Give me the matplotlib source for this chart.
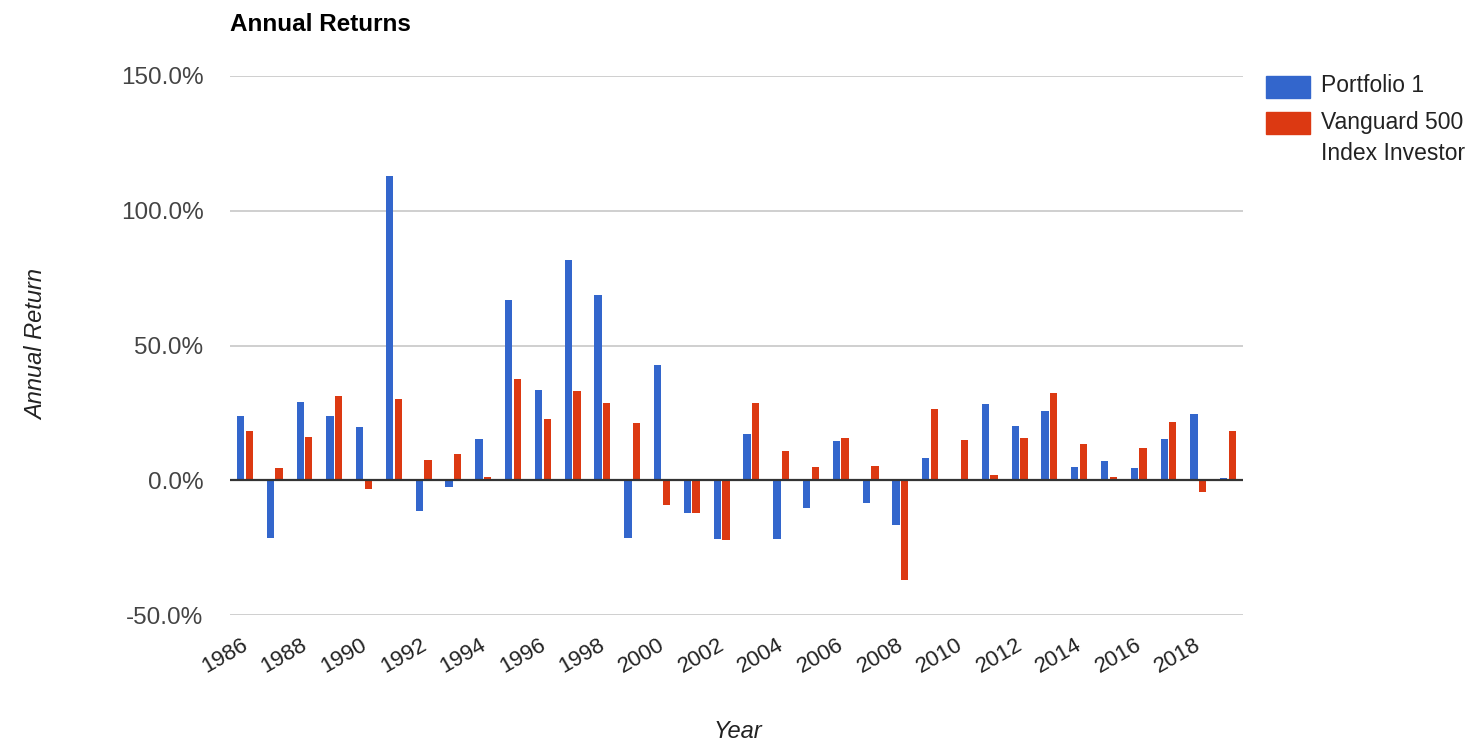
import matplotlib
matplotlib.use("Agg")
import matplotlib.pyplot as plt
import matplotlib.transforms as mtrans
import numpy as np
from matplotlib.patches import Rectangle

plt.rcParams['font.family'] = ['Liberation Sans', 'DejaVu Sans']

years = list(range(1986, 2020))
portfolio = [23.8, -21.3, 29.0, 23.8, 19.9, 113.0, -11.5, -2.4, 15.3, 66.7,
             33.5, 81.8, 68.7, -21.3, 42.7, -12.2, -21.9, 17.3, -21.9, -10.2,
             14.7, -8.3, -16.7, 8.2, 0.0, 28.3, 20.0, 25.7, 4.9, 7.0,
             4.4, 15.3, 24.5, 0.8]
vanguard = [18.1, 4.7, 16.2, 31.4, -3.3, 30.2, 7.4, 9.9, 1.2, 37.5,
            22.9, 33.2, 28.6, 21.1, -9.1, -12.0, -22.2, 28.5, 10.7, 4.8,
            15.6, 5.4, -37.0, 26.5, 14.9, 2.0, 15.8, 32.2, 13.5, 1.3,
            11.8, 21.7, -4.5, 18.1]
series_names = ["Portfolio 1", "Vanguard 500\nIndex Investor"]
colors = ["#3366cc", "#dc3912"]
yticks = [-50, 0, 50, 100, 150]

W, H = 1476, 752
fig = plt.figure(figsize=(W / 100, H / 100), dpi=100)
ax = fig.add_axes([230 / W, 1 - 615 / H, (1243 - 230) / W, (615 - 76) / H])

x = np.arange(len(years))
bw = 0.245
off = 0.145
ax.bar(x - off, portfolio, width=bw, color=colors[0], edgecolor='none', zorder=3)
ax.bar(x + off, vanguard, width=bw, color=colors[1], edgecolor='none', zorder=3)

ax.set_xlim(-0.5, len(years) - 0.5)
ax.set_ylim(-50, 150)
ax.set_yticks(yticks)
ax.set_yticklabels([f"{v:.1f}%" for v in yticks], fontsize=17.5, color="#444444")
for v in yticks:
    if v != 0:
        ax.axhline(v, color="#cccccc", lw=1.3, zorder=1)
ax.axhline(0, color="#333333", lw=1.6, zorder=4)

ax.set_xticks(x[::2])
ax.set_xticklabels([str(y) for y in years[::2]], fontsize=16, color="#222222",
                   rotation=30, ha='right', rotation_mode='anchor')
ax.tick_params(axis='both', length=0)
ax.tick_params(axis='y', pad=19)
ax.tick_params(axis='x', pad=14)
shift = mtrans.ScaledTranslation(-4 / 100, 0, fig.dpi_scale_trans)
for lab in ax.get_xticklabels():
    lab.set_transform(lab.get_transform() + shift)
for s in ax.spines.values():
    s.set_visible(False)

fig.text(230 / W, 1 - 31 / H, "Annual Returns", fontsize=17.5, fontweight='bold',
         ha='left', va='baseline', color='black')
fig.text(37 / W, 1 - 345 / H, "Annual Return", fontsize=17, style='italic',
         rotation=90, ha='center', va='center', color='#222222')
fig.text(738 / W, 1 - 731 / H, "Year", fontsize=17, style='italic',
         ha='center', va='center', color='#222222')

# legend
fig.patches.append(Rectangle((1266 / W, 1 - 98 / H), 44 / W, 22 / H,
                             transform=fig.transFigure, color=colors[0]))
fig.patches.append(Rectangle((1266 / W, 1 - 134 / H), 44 / W, 22 / H,
                             transform=fig.transFigure, color=colors[1]))
fig.text(1321 / W, 1 - 86 / H, series_names[0], fontsize=16.5, ha='left',
         va='center', color='#222222')
fig.text(1321 / W, 1 - 122 / H, series_names[1].split("\n")[0], fontsize=16.5,
         ha='left', va='center', color='#222222')
fig.text(1321 / W, 1 - 153 / H, series_names[1].split("\n")[1], fontsize=16.5,
         ha='left', va='center', color='#222222')

fig.savefig("out.png", dpi=100, facecolor='white')
